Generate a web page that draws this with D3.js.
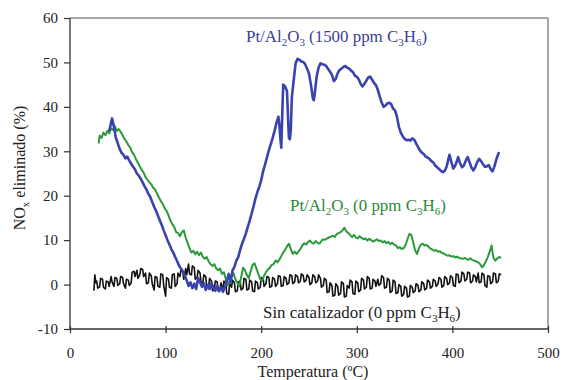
<!DOCTYPE html>
<html><head><meta charset="utf-8">
<script src="https://cdn.jsdelivr.net/npm/d3@7"></script>
<style>body{margin:0;background:#fff}svg{display:block}</style>
</head><body><svg id="c" width="563" height="380"></svg>
<script>
const FONT="'Liberation Serif','DejaVu Serif Condensed','DejaVu Serif',serif";
const xTicks=[0,100,200,300,400,500];
const yTicks=[-10,0,10,20,30,40,50,60];
const blueData=[[41,34.5],[43,36.5],[44,37.4],[46,35.5],[48,33],[50,31.8],[52,30.5],[54,29.6],[56,29.2],[58,28.4],[60,28.8],[62,27.9],[64,27.2],[66,26.5],[68,25.9],[70,25],[72,24.5],[74,23.8],[76,23],[78,22.1],[80,21.4],[82,20.4],[84,19.7],[86,18.6],[88,17.5],[90,16.6],[92,15.5],[94,14.4],[96,13.4],[98,12.2],[100,11.1],[102,10],[104,9],[106,8],[108,7.2],[110,6.2],[112,5.3],[114,4.3],[116,3.6],[118,3],[120,2.1],[122,1],[124,-0.3],[126,0.5],[128,-0.8],[130,0.2],[132,-1],[134,1.5],[136,0.5],[138,-0.5],[140,0.3],[142,-1.2],[144,-0.2],[146,-1],[148,0.4],[150,-0.8],[152,-1.4],[154,-0.3],[156,-1.5],[158,-0.6],[160,-1.6],[162,-0.5],[164,0.8],[166,2.4],[168,0.5],[170,3.2],[172,4],[174,5.4],[176,6.2],[178,7.8],[180,9.2],[182,10.3],[184,11.5],[186,13],[188,14.4],[190,16],[192,17.6],[194,19.4],[196,20.8],[198,22],[200,23.5],[202,25.5],[204,27],[206,28.6],[208,30.2],[210,31.6],[212,33],[214,34.6],[216,36.4],[218,37.8],[219,36],[220,33],[221,30.8],[222,38],[223,45],[225,44.6],[227,43.5],[228,38],[229,33],[230,32.7],[231,35],[232,42],[234,46],[236,49.8],[238,50.8],[240,50.6],[242,50.2],[244,50.1],[246,49.6],[248,48.6],[250,47.5],[252,45],[254,42],[255,41.5],[256,43],[258,46.8],[260,48.8],[262,49.8],[264,49.6],[266,49.5],[268,49.2],[270,48.5],[272,47.9],[274,47.2],[276,45.8],[278,46.3],[280,47.6],[282,48.3],[284,48.6],[286,49],[288,49.2],[290,48.8],[292,48.6],[294,48.2],[296,47.8],[298,47],[300,46.8],[302,46.2],[304,45.2],[306,44.6],[308,45.2],[310,45.9],[312,46.6],[314,46.8],[316,46.1],[318,45.4],[320,44.9],[322,43.8],[324,42.3],[326,41],[328,40],[330,40.3],[332,40.8],[334,40.9],[336,40.6],[338,39.6],[340,39.2],[342,37.8],[344,35.5],[346,34.2],[348,33.4],[350,32.8],[352,32.5],[354,32.6],[356,32.4],[358,32.9],[360,32.6],[362,31.8],[364,31],[366,30.2],[368,29.7],[370,29.4],[372,28.8],[374,28.6],[376,28.3],[378,27.8],[380,27.5],[382,26.8],[384,26.4],[386,26],[388,25.6],[390,25.3],[392,25.6],[394,26.6],[396,28.4],[397,29.2],[399,27.5],[401,26.1],[403,26.8],[405,28],[406,28.7],[408,27.3],[410,26.4],[412,26.8],[414,27.9],[416,28.7],[418,27.5],[420,26.3],[422,25.7],[424,26.5],[426,27.6],[428,28.3],[430,27.8],[432,27.1],[434,26.5],[436,26.6],[438,26.9],[440,26],[442,25.5],[444,26.6],[446,28.2],[448,29.4],[449,29.8]];
const greenData=[[30,31.8],[31,33.5],[33,33],[35,34.2],[37,33.6],[39,34.6],[41,34],[43,35.2],[45,34.8],[47,35.6],[49,34.6],[51,35],[53,34.4],[55,33.6],[57,32.8],[59,32.2],[61,31.4],[63,30.8],[65,29.8],[67,29.2],[69,28.2],[71,27.4],[73,26.6],[75,25.8],[77,25.2],[79,24.2],[81,23.6],[83,23],[85,22.6],[87,21.8],[89,21.4],[91,20.5],[93,19.6],[95,18.8],[97,18.2],[99,17.2],[101,16.6],[103,15.6],[105,14.4],[107,13.6],[109,13],[111,11.8],[113,11.6],[115,10.9],[117,11.8],[119,12.2],[121,10.6],[123,9.4],[125,8.2],[127,7.2],[129,7.6],[131,6.8],[133,7.4],[135,6.6],[137,7.2],[139,6.2],[141,5.8],[143,6.2],[145,5.2],[147,4.6],[149,4.2],[151,4.6],[153,3.6],[155,3.2],[157,3.6],[159,2.4],[161,2.8],[163,1.2],[165,-0.2],[167,0.8],[169,1.8],[171,2.6],[173,1.2],[175,0.4],[177,-0.4],[179,1.6],[181,3.8],[183,3.2],[185,2.2],[187,1.4],[189,3],[191,4.4],[193,4.8],[195,3.6],[197,2.4],[199,1.2],[201,0.8],[203,2],[205,2.8],[207,3.4],[209,3.8],[211,4.4],[213,4.6],[215,5.4],[217,5],[219,5.6],[221,6.4],[223,7.2],[225,7.8],[227,8.6],[229,9.2],[231,8],[233,6.9],[235,7.4],[237,6.9],[239,7.4],[241,8],[243,8.8],[245,9.3],[247,9],[249,9.6],[251,9.9],[253,9.4],[255,9.2],[257,9.8],[259,9.4],[261,9.2],[263,9.8],[265,10.2],[267,10.1],[269,10.4],[271,10.6],[273,10.8],[275,11],[277,10.7],[279,11.4],[281,11.6],[283,11.8],[285,12.2],[287,12.8],[289,12],[291,11.6],[293,11.2],[295,10.7],[297,11.2],[299,10.6],[301,10.4],[303,10.9],[305,10.5],[307,10.2],[309,10.4],[311,9.9],[313,10.3],[315,10],[317,9.7],[319,9.9],[321,10.2],[323,9.8],[325,9.9],[327,9.5],[329,9.8],[331,9.3],[333,9.6],[335,9.1],[337,9.4],[339,9],[341,8.8],[343,8.2],[345,8.4],[347,8],[349,8.2],[351,8.9],[353,10.2],[355,11.4],[357,11.2],[359,9.5],[361,7.7],[363,6.9],[365,8.2],[367,9],[369,9.2],[371,8.8],[373,8.9],[375,8.5],[377,8.1],[379,7.9],[381,7.6],[383,7.8],[385,7.4],[387,7.5],[389,7.1],[391,7],[393,6.7],[395,6.5],[397,6.6],[399,6.3],[401,6.4],[403,6.1],[405,6.3],[407,6],[409,5.9],[411,5.8],[413,6],[415,5.7],[417,5.6],[419,5.9],[421,5.5],[423,5.4],[425,5.2],[427,5],[429,4.6],[431,3.9],[433,4.4],[435,5.2],[437,6.2],[439,7.4],[441,8.8],[442,7.2],[443,6],[445,5.4],[447,5.9],[449,6.2],[451,6]];
const blackData=[[25,-1.4],[26,2.2],[27,0.4],[28,0.8],[29,-0.8],[31,-0.5],[32,1.4],[34,1.2],[35,-0.6],[37,-1.0],[38,0.8],[40,0.6],[41,-0.4],[43,1.8],[44,0.6],[46,-0.4],[47,1.6],[49,1.4],[50,-0.2],[52,0.2],[53,1.8],[55,1.6],[56,0.2],[58,-0.8],[59,1.2],[61,1.0],[62,-0.2],[64,0.4],[65,2.8],[67,3.0],[68,1.8],[70,3.2],[71,1.4],[73,2.2],[74,3.6],[76,3.4],[77,1.8],[79,2.6],[80,0.2],[82,0.4],[83,2.6],[85,2.0],[86,0.2],[88,-1.2],[89,1.8],[91,1.6],[92,-0.4],[94,-0.6],[95,2.4],[97,2.2],[98,-0.2],[100,-2.6],[101,1.6],[103,1.2],[104,-0.6],[106,-0.8],[107,2.2],[109,2.4],[110,-0.4],[112,0.2],[113,2.6],[115,1.8],[116,3.2],[118,2.8],[119,1.2],[121,3.6],[122,2.2],[124,4.6],[125,2.4],[127,2.2],[128,4.2],[130,3.8],[131,1.2],[133,1.6],[134,3.2],[136,2.6],[137,0.6],[139,0.4],[140,2.2],[142,1.8],[143,-0.4],[145,-0.6],[146,1.4],[148,0.8],[149,-1.4],[151,-1.2],[152,0.8],[154,0.6],[155,-1.4],[157,-0.8],[158,0.4],[160,-1.6],[161,0.8],[163,0.2],[164,-2.0],[166,-2.2],[167,0.2],[169,-0.6],[170,1.0],[172,0.4],[173,-1.6],[175,-1.4],[176,0.6],[178,0.8],[179,-1.2],[181,-0.8],[182,1.4],[184,1.2],[185,-1.2],[187,-1.0],[188,1.0],[190,0.6],[191,-1.4],[193,-1.6],[194,0.8],[196,0.4],[197,-1.0],[199,-0.6],[200,1.6],[202,1.4],[203,-0.4],[205,0.2],[206,1.8],[208,1.6],[209,-0.6],[211,-0.4],[212,1.6],[214,1.2],[215,-0.4],[217,0.2],[218,2.0],[220,1.8],[221,-0.4],[223,-0.2],[224,1.8],[226,1.4],[227,0.0],[229,0.4],[230,2.2],[232,2.0],[233,0.2],[235,0.6],[236,2.2],[238,1.8],[239,0.4],[241,0.8],[242,2.4],[244,2.0],[245,0.6],[247,1.0],[248,2.2],[250,1.6],[251,0.0],[253,0.4],[254,2.2],[256,1.8],[257,0.4],[259,0.8],[260,2.2],[262,1.4],[263,-0.6],[265,-0.2],[266,1.4],[268,1.0],[269,-1.8],[271,-1.6],[272,0.4],[274,-0.2],[275,-2.6],[277,-2.4],[278,0.2],[280,-0.4],[281,-2.4],[283,-2.0],[284,0.6],[286,0.2],[287,-2.8],[289,-2.6],[290,-0.2],[292,-0.8],[293,1.0],[295,0.6],[296,-2.0],[298,-2.2],[299,0.8],[301,0.4],[302,-1.6],[304,-1.2],[305,1.4],[307,1.0],[308,-1.0],[310,-0.6],[311,1.8],[313,1.4],[314,-1.0],[316,-0.8],[317,1.2],[319,0.8],[320,-0.4],[322,1.2],[323,-0.2],[325,0.2],[326,2.0],[328,1.6],[329,-0.8],[331,-0.6],[332,1.4],[334,1.0],[335,-1.8],[337,-1.4],[338,1.0],[340,0.6],[341,-2.0],[343,-1.8],[344,0.0],[346,-0.4],[347,-2.6],[349,-2.2],[350,-0.4],[352,-0.8],[353,-2.8],[355,-2.6],[356,-0.2],[358,-0.6],[359,-1.8],[361,-1.4],[362,0.2],[364,-0.2],[365,-1.6],[367,-1.2],[368,0.6],[370,0.2],[371,-1.2],[373,-0.8],[374,1.0],[376,0.6],[377,-0.8],[379,-0.4],[380,1.2],[382,0.8],[383,-0.4],[385,0.2],[386,1.6],[388,1.2],[389,-0.6],[391,-0.2],[392,1.8],[394,1.4],[395,0.0],[397,0.4],[398,2.0],[400,1.6],[401,-0.2],[403,-0.4],[404,2.4],[406,2.2],[407,0.4],[409,0.8],[410,2.8],[412,2.4],[413,0.8],[415,1.2],[416,2.8],[418,2.6],[419,0.4],[421,0.8],[422,2.2],[424,1.8],[425,0.6],[427,2.6],[428,0.4],[430,0.6],[431,2.6],[433,2.2],[434,-0.2],[436,-0.6],[437,2.0],[439,1.8],[440,0.2],[442,0.6],[443,2.6],[445,2.4],[446,0.4],[448,0.8],[449,2.4],[451,2.2]];

const svg=d3.select("#c");
const L=70,R=548,T=18,B=329;
const x=d3.scaleLinear().domain([0,500]).range([L,R]);
const y=d3.scaleLinear().domain([-10,60]).range([B,T]);

svg.append("line").attr("x1",L).attr("x2",R).attr("y1",T).attr("y2",T).attr("stroke","#8a8a8a").attr("stroke-width",1.5);
svg.append("line").attr("x1",R).attr("x2",R).attr("y1",T).attr("y2",B).attr("stroke","#8a8a8a").attr("stroke-width",1.5);

const line=d3.line().x(d=>x(d[0])).y(d=>y(d[1]));
svg.append("path").datum(blackData).attr("d",line).attr("fill","none").attr("stroke","#111").attr("stroke-width",1.6).attr("stroke-linejoin","round");
svg.append("path").datum(greenData).attr("d",line).attr("fill","none").attr("stroke","#2c9a3c").attr("stroke-width",2).attr("stroke-linejoin","round");
svg.append("path").datum(blueData).attr("d",line).attr("fill","none").attr("stroke","#3a43ad").attr("stroke-width",2.6).attr("stroke-linejoin","round");

const ya=svg.append("g").attr("transform",`translate(${L},0)`).call(d3.axisLeft(y).tickValues(yTicks).tickSize(6).tickPadding(6).tickFormat(d=>String(d)));
const xa=svg.append("g").attr("transform",`translate(0,${B})`).call(d3.axisBottom(x).tickValues(xTicks).tickSize(4).tickPadding(14).tickFormat(d=>String(d)));
[ya,xa].forEach(g=>{g.attr("font-family",FONT).attr("font-size",15);
  g.select(".domain").attr("stroke","#333").attr("stroke-width",1.3);
  g.selectAll(".tick line").attr("stroke","#333").attr("stroke-width",1.2);
  g.selectAll(".tick text").attr("fill","#222");});
xa.selectAll(".tick line").attr("y1",-3).attr("y2",4);
xa.select(".domain").attr("d",`M${L},0H${R}`);
ya.select(".domain").attr("d",`M0,${T}V${B}`);

svg.append("text").attr("x",(L+R)/2+4).attr("y",377).attr("text-anchor","middle").attr("fill","#222").attr("font-family",FONT).attr("font-size",16).text("Temperatura (ºC)");
const yt=svg.append("text").attr("transform","translate(25,168) rotate(-90)").attr("text-anchor","middle").attr("fill","#222").attr("font-family",FONT).attr("font-size",16);
yt.append("tspan").text("NO");
yt.append("tspan").attr("dy",4).attr("font-size",11).text("x");
yt.append("tspan").attr("dy",-4).text(" eliminado (%)");

function label(x0,yb,color,parts){
  const t=svg.append("text").attr("x",x0).attr("y",yb).attr("fill",color).attr("font-family",FONT).attr("font-size",16.9);
  let down=false;
  parts.forEach(p=>{
    const sub=!!p[1];
    const ts=t.append("tspan").text(p[0]);
    if(sub){ts.attr("font-size",11); if(!down){ts.attr("dy",4);down=true;}}
    else if(down){ts.attr("dy",-4);down=false;}
  });
}
label(246,42,"#3a3f9e",[["Pt/Al"],["2",1],["O"],["3",1],[" (1500 ppm C"],["3",1],["H"],["6",1],[")"]]);
label(290,211,"#2a8a36",[["Pt/Al"],["2",1],["O"],["3",1],[" (0 ppm C"],["3",1],["H"],["6",1],[")"]]);
label(263,318,"#222",[["Sin catalizador (0 ppm C"],["3",1],["H"],["6",1],[")"]]);
</script></body></html>
